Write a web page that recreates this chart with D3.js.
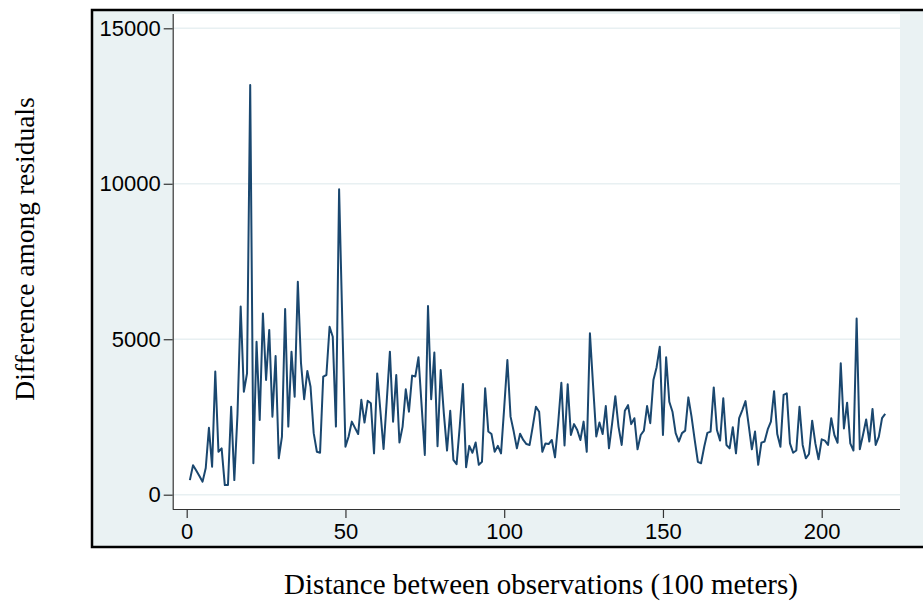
<!DOCTYPE html>
<html>
<head>
<meta charset="utf-8">
<script src="https://cdn.jsdelivr.net/npm/d3@7"></script>
<style>
  body { margin: 0; background: #fff; }
  .tick text { font-family: "Liberation Sans", Arial, sans-serif; }
</style>
</head>
<body>
<div class="chart"></div>
<script>

// distance (100 meters) 1..220, difference among residuals
var distance = d3.range(1, 221);
var difference = [
  470, 950, 780, 600, 420, 860, 2150, 900, 3960, 1380,
  1490, 310, 310, 2830, 470, 2600, 6050, 3310, 3900, 13180,
  1010, 4920, 2400, 5830, 3690, 5300, 2510, 4460, 1170, 1870,
  5970, 2190, 4600, 3150, 6850, 4230, 3070, 3980, 3470, 1980,
  1380, 1350, 3800, 3850, 5400, 5080, 2190, 9820, 5600, 1540,
  1870, 2350, 2150, 1950, 3050, 2320, 3020, 2940, 1330, 3900,
  2700, 1470, 3000, 4600, 2350, 3850, 1680, 2190, 3390, 2670,
  3830, 3800, 4420, 2850, 1280, 6070, 3070, 4570, 1560, 4010,
  2600, 1420, 2700, 1120, 980, 2200, 3560, 880, 1570, 1350,
  1680, 960, 1060, 3420, 2030, 1950, 1380, 1570, 1330, 2800,
  4330, 2510, 2030, 1490, 1960, 1760, 1630, 1600, 2200, 2830,
  2670, 1380, 1650, 1630, 1760, 1200, 2300, 3600, 1580, 3550,
  1920, 2270, 2080, 1760, 2350, 1380, 5190, 3500, 1870, 2320,
  1950, 2850, 1490, 2300, 3170, 2190, 1600, 2700, 2880, 2270,
  2460, 1460, 1920, 2060, 2850, 2300, 3690, 4100, 4760, 1920,
  4420, 2990, 2670, 1980, 1710, 1980, 2060, 3130, 2510, 1760,
  1060, 1010, 1540, 1990, 2030, 3450, 2080, 1740, 3100, 1600,
  1490, 2170, 1330, 2460, 2720, 3010, 2240, 1460, 2030, 960,
  1670, 1710, 2100, 2350, 3330, 1950, 1540, 3210, 3260, 1650,
  1350, 1420, 2830, 1600, 1170, 1310, 2380, 1650, 1140, 1780,
  1740, 1600, 2460, 1920, 1670, 4230, 2130, 2960, 1650, 1420,
  5670, 1460, 1920, 2420, 1710, 2760, 1600, 1870, 2460, 2600
];
var xTicks = [0, 50, 100, 150, 200];
var yTicks = [0, 5000, 10000, 15000];
var xTitle = "Distance between observations (100 meters)";
var yTitle = "Difference among residuals";

var width = 923, height = 606;
var plot = {left: 172.7, right: 900, top: 14, bottom: 509};

var svg = d3.select(".chart").append("svg")
    .attr("width", width)
    .attr("height", height);

// graph region (light blue with black frame, runs off the right edge)
svg.append("rect")
    .attr("x", 92).attr("y", 10)
    .attr("width", 860).attr("height", 537)
    .attr("fill", "#eaf2f3")
    .attr("stroke", "#000").attr("stroke-width", 2.5);

// plot region
svg.append("rect")
    .attr("x", plot.left).attr("y", plot.top)
    .attr("width", plot.right - plot.left).attr("height", plot.bottom - plot.top)
    .attr("fill", "#fff");

var x = d3.scaleLinear().domain([-4.41, 224.66]).range([plot.left, plot.right]);
var y = d3.scaleLinear().domain([-460, 15460]).range([plot.bottom, plot.top]);

// gridlines
svg.append("g").selectAll("line")
    .data(yTicks).enter()
    .append("line")
    .attr("x1", plot.left).attr("x2", plot.right)
    .attr("y1", function(d) { return y(d); })
    .attr("y2", function(d) { return y(d); })
    .attr("stroke", "#e8f0f2").attr("stroke-width", 1.6);

// axes
var xAxis = svg.append("g")
    .attr("transform", "translate(0," + plot.bottom + ")")
    .call(d3.axisBottom(x).tickValues(xTicks).tickFormat(d3.format("d"))
      .tickSize(9).tickPadding(5).tickSizeOuter(0));
var yAxis = svg.append("g")
    .attr("transform", "translate(" + plot.left + ",0)")
    .call(d3.axisLeft(y).tickValues(yTicks).tickFormat(d3.format("d"))
      .tickSize(9).tickPadding(3).tickSizeOuter(0));

[xAxis, yAxis].forEach(function(a) {
  a.select(".domain").attr("stroke", "#333").attr("stroke-width", 1.2);
  a.selectAll(".tick line").attr("stroke", "#333").attr("stroke-width", 1.2);
  a.selectAll(".tick text").attr("font-size", 22).attr("fill", "#000");
});
yAxis.select(".domain").attr("d", "M0.5," + plot.top + "V" + plot.bottom);
xAxis.select(".domain").attr("d", "M" + plot.left + ",0.5H" + plot.right);

// series
var line = d3.line()
    .x(function(d, i) { return x(distance[i]); })
    .y(function(d) { return y(d); });

svg.append("path")
    .datum(difference)
    .attr("d", line)
    .attr("fill", "none")
    .attr("stroke", "#1a476f")
    .attr("stroke-width", 2)
    .attr("stroke-linejoin", "round");

// axis titles
svg.append("text")
    .attr("x", 541).attr("y", 594)
    .attr("text-anchor", "middle")
    .attr("font-family", "'Liberation Serif', 'Times New Roman', serif")
    .attr("font-size", 29)
    .text(xTitle);

svg.append("text")
    .attr("transform", "translate(34,249) rotate(-90)")
    .attr("text-anchor", "middle")
    .attr("font-family", "'Liberation Serif', 'Times New Roman', serif")
    .attr("font-size", 27.5)
    .text(yTitle);

</script>
</body>
</html>
